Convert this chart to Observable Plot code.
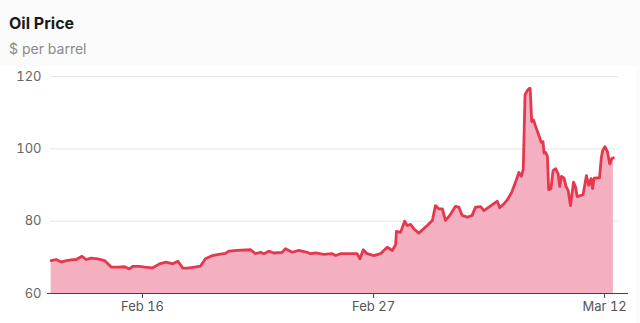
<!DOCTYPE html>
<html><head><meta charset="utf-8">
<script src="https://cdn.jsdelivr.net/npm/d3@7"></script>
<script src="https://cdn.jsdelivr.net/npm/@observablehq/plot@0.6"></script>
<style>
body{margin:0;background:#fbfbfb;font-family:Inter,sans-serif;width:640px;height:323px;overflow:hidden}
#hdr{height:66px;box-sizing:border-box;padding:13px 0 0 9px}
.t{font-weight:700;font-size:16px;color:#1a1a1a;line-height:20px}
.s{font-size:14px;color:#8a8a8a;margin-top:7px;line-height:18px}
#chart svg{display:block}
</style></head><body>
<div id="hdr"><div class="t">Oil Price</div><div class="s">$ per barrel</div></div>
<div id="chart"></div>
<script>
// trading-day offsets from Feb 16 (weekends removed)
const day = [-3.56,-3.36,-3.17,-2.97,-2.78,-2.58,-2.36,-2.19,-2.00,-1.74,-1.48,-1.22,-0.96,-0.70,-0.51,-0.38,-0.12,0.08,0.40,0.66,0.92,1.18,1.38,1.57,1.76,2.03,2.26,2.45,2.72,2.97,3.23,3.36,3.69,4.21,4.40,4.60,4.73,4.92,5.11,5.44,5.57,5.83,6.09,6.42,6.54,6.74,7.06,7.39,7.52,7.71,8.04,8.36,8.47,8.60,8.75,9.01,9.27,9.53,9.73,9.86,9.89,10.05,10.21,10.31,10.44,10.57,10.76,11.09,11.29,11.41,11.54,11.68,11.80,11.97,12.19,12.32,12.45,12.65,12.84,12.97,13.17,13.30,13.49,13.75,13.82,13.91,14.08,14.22,14.38,14.53,14.66,14.75,14.83,14.90,14.98,15.06,15.10,15.16,15.23,15.33,15.43,15.53,15.60,15.64,15.70,15.77,15.82,15.91,15.99,16.09,16.19,16.25,16.32,16.42,16.50,16.58,16.67,16.79,16.87,16.93,17.06,17.16,17.29,17.38,17.47,17.53,17.59,17.80,17.87,17.92,18.01,18.11,18.20,18.28,18.34];
const price = [69.1,69.4,68.7,69.1,69.3,69.4,70.3,69.4,69.8,69.6,69.1,67.3,67.3,67.4,66.8,67.5,67.5,67.3,67.1,68.2,68.7,68.2,68.9,67.0,67.0,67.3,67.6,69.6,70.5,70.8,71.1,71.7,71.9,72.1,71.0,71.4,71.0,71.7,71.2,71.4,72.4,71.4,71.9,71.4,71.0,71.2,70.8,71.0,70.5,71.0,71.0,71.0,69.6,72.1,71.0,70.5,71.0,72.8,71.9,73.5,77.2,76.9,80.0,78.8,79.1,77.9,76.7,78.8,80.2,84.3,83.4,83.4,80.2,81.6,84.1,83.9,81.6,81.1,81.6,83.9,84.0,82.9,83.9,85.2,85.5,83.7,84.8,86.0,88.0,90.8,93.5,92.4,94.3,115.0,116.0,116.7,116.7,107.5,108.0,105.8,103.9,101.8,102.0,98.8,99.0,98.0,88.7,89.0,94.0,94.5,93.1,89.6,92.4,91.9,89.5,88.5,84.3,90.8,89.4,86.8,87.1,87.3,92.6,89.9,91.8,89.0,91.9,92.0,97.5,99.5,100.6,99.2,95.8,97.3,97.5];
const tickDays = [0, 9, 18];
const tickLabels = ["Feb 16", "Feb 27", "Mar 12"];
const yTicks = [60, 80, 100, 120];
const gridTicks = [80, 100, 120];

const data = day.map((d, i) => ({day: d, price: price[i]}));

const chart = Plot.plot({
  width: 636,
  height: 257,
  marginLeft: 50,
  marginRight: 18,
  marginTop: 10,
  marginBottom: 30,
  style: {fontFamily: "Inter, sans-serif", fontSize: "13px", background: "#fff", overflow: "visible"},
  x: {domain: [-3.584, 18.54], label: null},
  y: {domain: [60, 120], label: null},
  marks: [
    Plot.ruleY(gridTicks, {stroke: "#e6e6e6", strokeWidth: 1}),
    Plot.areaY(data, {x: "day", y1: 60, y2: "price", fill: "#f4afc1"}),
    Plot.lineY(data, {x: "day", y: "price", stroke: "#e5384f", strokeWidth: 2.8, strokeLinejoin: "round"}),
    Plot.ruleY([60], {stroke: "#444", strokeWidth: 1, insetLeft: -3, insetRight: -10}),
    Plot.axisY({ticks: yTicks, tickSize: 0, tickPadding: 9, fill: "#666", fontSize: 13}),
    Plot.axisX({ticks: tickDays, tickFormat: d => tickLabels[tickDays.indexOf(d)], tickSize: 5, tickPadding: 3, stroke: "#444", fill: "#555", fontSize: 13})
  ]
});
document.getElementById("chart").appendChild(chart);
</script>
</body></html>
